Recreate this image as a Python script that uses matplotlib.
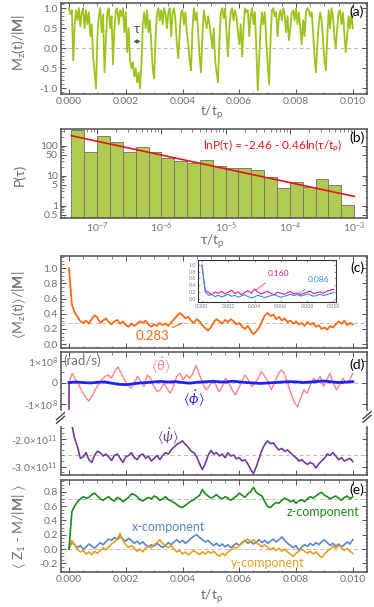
import matplotlib.pyplot as plt
import numpy as np
from matplotlib.ticker import MultipleLocator, FixedLocator, FixedFormatter, FormatStrFormatter, LogLocator, NullFormatter
from matplotlib.lines import Line2D

plt.rcParams['font.family'] = ['Lato', 'DejaVu Sans']
plt.rcParams['mathtext.fontset'] = 'custom'
plt.rcParams['mathtext.rm'] = 'Lato'
plt.rcParams['mathtext.it'] = 'Lato:italic'
plt.rcParams['mathtext.bf'] = 'Lato:bold'
plt.rcParams['mathtext.fallback'] = 'stixsans'
plt.rcParams['axes.unicode_minus'] = False

# (a) Mz(t)/|M|, sampled every 5e-5 t_p
mz_a = [1.0, 0.85, 0.95, -0.3, 0.6, 0.95, 0.7, 1.0, 0.55, 0.9,
        1.0, 0.5, 0.95, 0.6, 0.9, 0.3, 0.6, -0.2, -0.6, -1.0,
        0.3, 0.8, 1.0, 0.4, 0.85, -0.6, 0.2, 0.9, 1.0, 0.5,
        0.8, -0.4, 0.5, 0.95, 1.0, 0.6, 0.95, 0.8, 1.0, 0.4,
        0.9, -0.1, 0.5, -0.3, -0.5, -0.35, -0.7, -0.5, -0.85, -0.6,
        -1.0, -0.4, 0.6, 0.9, 0.5, 0.95, 0.4, 0.7, 0.1, -0.5,
        -0.75, 0.3, 0.85, 1.0, 0.7, 0.95, 0.6, 1.0, 0.85, 0.5,
        0.9, 1.0, 0.3, 0.9, 1.0, 0.7, 0.1, -0.25, 0.4, 0.9,
        0.95, 0.6, 0.9, 0.4, 0.1, -0.3, -0.55, 0.5, 1.0, 0.7,
        0.9, 0.4, -0.2, -0.6, 0.3, 0.95, 0.7, 0.5, 0.8, 0.6,
        0.3, 0.0, 0.5, -0.3, -0.6, -0.85, 0.2, 0.9, 1.0, 0.75,
        1.0, 0.4, -0.2, 0.5, 0.9, 1.0, 0.7, 0.95, 0.8, 0.4,
        0.1, 0.6, -0.2, 0.5, 1.0, 0.9, 0.95, 0.3, 0.8, 1.0,
        0.6, 0.9, 0.0, -1.05, -0.3, 0.5, 0.9, 0.6, 0.9, 0.2,
        -0.4, -0.9, 0.2, 0.95, 1.0, 0.8, 0.9, 0.3, 0.8, 0.95,
        0.7, 1.0, 0.85, 0.4, 0.8, 0.2, 0.5, 0.9, 0.95, 0.7,
        1.0, 0.6, 0.9, 0.5, 0.1, 0.7, 0.3, 0.9, 1.0, 0.95,
        0.8, 0.9, 0.4, -0.2, -0.6, 0.1, 0.6, 0.9, 0.7, 0.2,
        -0.3, -0.55, 0.3, 0.95, 0.5, 1.0, 0.8, 0.3, 0.0, 0.5,
        0.9, 0.95, 0.6, 0.9, 0.4, -0.1, 0.3, 0.8, 0.5, 0.9, 0.5]

# (b) histogram of residence times
log_edges = np.linspace(-7.4, -3.0, 23)
counts = [338, 63, 211, 130, 63, 93, 63, 40, 31, 27, 33,
          21, 18, 18, 16, 9, 3.9, 6.1, 4.1, 7.9, 5.0, 1.05]
fit_a, fit_b = -2.46, -0.46

# (c) <Mz(t)>/|M|, every 1e-4 t_p
mz_avg = [1.0, 0.52, 0.42, 0.36, 0.30, 0.28, 0.31, 0.27, 0.33, 0.38,
          0.35, 0.28, 0.31, 0.34, 0.29, 0.26, 0.30, 0.32, 0.27, 0.30,
          0.25, 0.23, 0.27, 0.24, 0.27, 0.30, 0.28, 0.31, 0.26, 0.23,
          0.26, 0.24, 0.28, 0.25, 0.27, 0.24, 0.29, 0.33, 0.37, 0.41,
          0.38, 0.34, 0.36, 0.31, 0.28, 0.33, 0.30, 0.25, 0.21, 0.18,
          0.22, 0.29, 0.33, 0.30, 0.27, 0.32, 0.29, 0.33, 0.30, 0.26,
          0.28, 0.23, 0.20, 0.24, 0.18, 0.13, 0.17, 0.22, 0.30, 0.38,
          0.41, 0.37, 0.39, 0.33, 0.36, 0.31, 0.34, 0.29, 0.31, 0.27,
          0.30, 0.26, 0.28, 0.24, 0.29, 0.26, 0.28, 0.23, 0.25, 0.20,
          0.22, 0.19, 0.24, 0.22, 0.26, 0.30, 0.27, 0.31, 0.25, 0.28, 0.26]
mz_mean = 0.283

# inset of (c), every 2.5e-4 t_p
ins_blue = [1.0, 0.2, 0.1, 0.12, 0.06, 0.10, 0.05, 0.09, 0.13, 0.07,
            0.10, 0.04, 0.08, 0.12, 0.06, 0.02, 0.05, 0.10, 0.07, 0.03,
            0.06, 0.09, 0.12, 0.08, 0.04, 0.07, 0.10, 0.13, 0.09, 0.12,
            0.08, 0.10, 0.14, 0.11, 0.07, 0.10, 0.13, 0.09, 0.12, 0.15, 0.18]
ins_pink = [1.0, 0.25, 0.18, 0.12, 0.20, 0.16, 0.22, 0.14, 0.19, 0.25,
            0.15, 0.20, 0.12, 0.18, 0.24, 0.16, 0.28, 0.20, 0.14, 0.18,
            0.22, 0.15, 0.12, 0.19, 0.16, 0.13, 0.18, 0.21, 0.14, 0.17,
            0.12, 0.16, 0.19, 0.22, 0.15, 0.18, 0.20, 0.16, 0.22, 0.25, 0.28]

# (d) angular velocities (rad/s)
theta_dot = [0.0, 0.43, 0.12, -0.1, -0.42, -0.65, -0.85, -0.65, -0.34, -0.1,
             0.12, 0.28, 0.35, 0.2, 0.5, 0.72, 0.43, 0.12, -0.1, -0.26,
             -0.03, 0.28, 0.05, -0.18, 0.35, 0.2, -0.18, -0.42, -0.34, -0.03,
             -0.26, -0.49, -0.18, 0.28, 0.43, 0.12, 0.35, 0.2, 0.43, 0.78,
             0.35, -0.03, -0.34, -0.18, 0.12, -0.1, -0.42, -0.18, 0.2, -0.03,
             -0.34, -0.57, -0.26, 0.05, 0.35, 0.12, -0.18, -0.03, 0.2, 0.5,
             0.28, 0.05, -0.34, -0.03, 0.35, 0.58, 0.43, -0.03, -0.49, -0.88,
             -1.12, -0.72, -0.34, -0.49, -0.1, 0.2, 0.05, 0.28, -0.18, 0.12,
             0.43, -0.03, -0.34, -0.1, 0.2, -0.03, 0.12, 0.43]
phi_dot = [0.0, 0.02, 0.0, -0.02, 0.01, 0.03, -0.03, -0.08, -0.1, -0.06,
           -0.02, 0.0, 0.03, 0.05, 0.02, 0.04, 0.0, -0.03, 0.01, 0.03,
           0.05, 0.04, 0.02, 0.06, 0.03, 0.0, -0.02, -0.04, -0.02, 0.0,
           0.02, 0.04, 0.03, 0.0, 0.02, 0.05, 0.07, 0.03, 0.0, 0.02, 0.04]
psi_dot = [0.0, -1.5, -2.0, -2.3, -2.7, -2.65, -2.5, -2.75, -2.85, -2.6,
           -2.45, -2.5, -2.62, -2.55, -2.65, -2.78, -2.6, -2.55, -2.7, -2.85,
           -2.65, -2.6, -2.5, -2.68, -2.75, -2.6, -2.55, -2.7, -2.62, -2.8,
           -2.7, -2.6, -2.75, -2.6, -2.5, -2.55, -2.4, -2.3, -2.2, -2.15,
           -2.08, -2.2, -2.3, -2.45, -2.5, -2.65, -2.9, -3.1, -2.9, -2.6,
           -2.42, -2.55, -2.5, -2.62, -2.55, -2.68, -2.5, -2.62, -2.58, -2.72,
           -2.68, -2.8, -2.75, -2.9, -3.1, -3.25, -3.0, -2.7, -2.4, -2.2,
           -2.08, -2.18, -2.15, -2.3, -2.4, -2.35, -2.45, -2.4, -2.5, -2.6,
           -2.68, -2.8, -2.75, -2.85, -2.92, -2.85, -2.9, -3.05, -2.9, -2.8,
           -2.7, -2.55, -2.6, -2.5, -2.62, -2.75, -2.68, -2.8, -2.75, -2.7, -2.82]
psi_mean = -2.6

# (e) components, every 1e-4 t_p
z_comp = [0.0, 0.52, 0.60, 0.66, 0.70, 0.73, 0.71, 0.72, 0.76, 0.78,
          0.74, 0.70, 0.68, 0.71, 0.73, 0.69, 0.67, 0.72, 0.70, 0.66,
          0.69, 0.72, 0.77, 0.76, 0.73, 0.69, 0.67, 0.70, 0.72, 0.70,
          0.74, 0.72, 0.68, 0.70, 0.73, 0.69, 0.67, 0.65, 0.62, 0.59,
          0.58, 0.61, 0.64, 0.67, 0.69, 0.72, 0.75, 0.83, 0.77, 0.74,
          0.71, 0.73, 0.76, 0.72, 0.70, 0.73, 0.71, 0.68, 0.71, 0.74,
          0.78, 0.75, 0.72, 0.77, 0.80, 0.86, 0.79, 0.76, 0.74, 0.66,
          0.59, 0.58, 0.62, 0.65, 0.64, 0.68, 0.71, 0.69, 0.66, 0.68,
          0.64, 0.67, 0.69, 0.66, 0.70, 0.73, 0.71, 0.74, 0.77, 0.79,
          0.75, 0.73, 0.70, 0.72, 0.74, 0.71, 0.68, 0.72, 0.74, 0.70, 0.73]
x_comp = [0.0, 0.10, 0.06, 0.02, 0.05, 0.00, 0.03, 0.07, 0.04, 0.01,
          0.05, 0.09, 0.06, 0.10, 0.14, 0.12, 0.16, 0.13, 0.17, 0.14,
          0.11, 0.15, 0.12, 0.08, 0.11, 0.07, 0.10, 0.06, 0.03, 0.06,
          0.04, 0.08, 0.05, 0.02, 0.05, 0.09, 0.06, 0.10, 0.13, 0.09,
          0.12, 0.08, 0.11, 0.15, 0.18, 0.20, 0.16, 0.13, 0.10, 0.12,
          0.08, 0.05, 0.08, 0.04, 0.07, 0.03, 0.06, 0.02, 0.05, 0.08,
          0.05, 0.09, 0.12, 0.08, 0.11, 0.07, 0.10, 0.13, 0.09, 0.12,
          0.08, 0.11, 0.14, 0.10, 0.13, 0.17, 0.12, 0.08, 0.05, 0.02,
          0.05, -0.02, 0.03, 0.06, 0.04, 0.08, 0.05, 0.09, 0.06, 0.10,
          0.13, 0.09, 0.05, 0.08, 0.04, 0.07, 0.03, 0.06, 0.10, 0.07, 0.13]
y_comp = [0.0, 0.12, 0.05, 0.0, -0.04, -0.02, -0.07, -0.04, -0.08, -0.03,
          -0.06, -0.02, 0.02, -0.01, 0.03, 0.07, 0.10, 0.14, 0.22, 0.12,
          0.06, 0.02, 0.05, 0.01, -0.03, 0.0, -0.04, 0.01, 0.04, 0.02,
          0.06, 0.09, 0.13, 0.08, 0.04, 0.02, 0.05, 0.0, -0.04, -0.02,
          -0.07, -0.04, -0.08, -0.05, -0.02, -0.05, -0.08, -0.04, -0.07, -0.03,
          -0.06, -0.03, -0.07, -0.10, -0.06, -0.09, -0.04, -0.01, 0.03, 0.01,
          0.05, 0.08, 0.11, 0.14, 0.10, 0.13, 0.09, 0.06, 0.03, 0.06,
          0.02, -0.01, 0.02, -0.02, 0.01, -0.03, 0.0, -0.04, -0.07, -0.10,
          -0.06, -0.03, 0.0, -0.03, -0.06, -0.03, -0.07, -0.04, -0.08, -0.12,
          -0.07, -0.03, 0.0, 0.04, 0.01, 0.05, 0.02, -0.02, 0.01, -0.03, -0.06]

T_END = 0.010
def tgrid(v):
    return np.linspace(0, T_END, len(v))

W_PX, H_PX = 374, 607
def box(top, bottom, left=60.5, right=367):
    return [left / W_PX, 1 - bottom / H_PX, (right - left) / W_PX, (bottom - top) / H_PX]
def fx(px):
    return px / W_PX
def fy(py):
    return 1 - py / H_PX

GRAY = '#707070'
def frame(ax, size=7.5):
    for s in ax.spines.values():
        s.set_color('#505050')
        s.set_linewidth(1.1)
    ax.tick_params(which='both', direction='in', top=True, right=True,
                   colors='#505050', labelcolor=GRAY, labelsize=size, pad=2)
    ax.tick_params(which='major', length=3.5, width=0.7)
    ax.tick_params(which='minor', length=1.8, width=0.5)

def time_axis(ax, labels):
    ax.set_xlim(-0.0003, 0.0105)
    ax.xaxis.set_major_locator(MultipleLocator(0.002))
    ax.xaxis.set_minor_locator(MultipleLocator(0.0005))
    if labels:
        ax.xaxis.set_major_formatter(FormatStrFormatter('%.3f'))
    else:
        ax.xaxis.set_major_formatter(NullFormatter())

dash = dict(color='#bbbbbb', lw=0.7, ls=(0, (4, 3)), zorder=1)

fig = plt.figure(figsize=(3.74, 6.07), dpi=100)

# ---- (a)
ax = fig.add_axes(box(3, 94))
frame(ax)
ax.plot(tgrid(mz_a), mz_a, color='#9dc41e', lw=1.3, zorder=2)
ax.axhline(0, **dash)
time_axis(ax, True)
ax.set_ylim(-1.14, 1.13)
ax.yaxis.set_major_locator(FixedLocator([-1, -0.5, 0, 0.5, 1]))
ax.yaxis.set_minor_locator(MultipleLocator(0.1))
ax.yaxis.set_major_formatter(FormatStrFormatter('%.1f'))
ax.annotate('', xy=(0.00217, 0.17), xytext=(0.00263, 0.17),
            arrowprops=dict(arrowstyle='<->', color='#555555', lw=0.8, mutation_scale=5))
ax.text(0.0024, 0.47, 'τ', color='#555555', fontsize=9.5, ha='center', va='center')
fig.text(fx(357), fy(12), '(a)', fontsize=10, ha='center', va='center')
fig.text(fx(19), fy(42), r'M$_\mathrm{z}$(t)/|$\mathbf{M}$|', rotation=90, color=GRAY,
         fontsize=10, ha='center', va='center')
fig.text(fx(212), fy(113), r't/t$_\mathrm{p}$', color=GRAY, fontsize=10, ha='center', va='center')

# ---- (b)
ax = fig.add_axes(box(129, 218))
frame(ax)
ax.set_xscale('log')
ax.set_yscale('log')
edges = 10 ** log_edges
ax.bar(edges[:-1], counts, width=np.diff(edges), align='edge', bottom=0.05,
       color='#b0cb52', edgecolor='#7d7d70', lw=0.7, zorder=2)
tau_fit = edges[[0, -1]]
ax.plot(tau_fit, np.exp(fit_a + fit_b * np.log(tau_fit)), color='#e8141b', lw=1.2, zorder=3)
ax.set_xlim(10 ** -7.57, 10 ** -2.80)
ax.set_ylim(0.39, 363)
ax.xaxis.set_major_locator(LogLocator(base=10, numticks=10))
ax.xaxis.set_minor_locator(LogLocator(base=10, subs=np.arange(2, 10), numticks=10))
ax.xaxis.set_minor_formatter(NullFormatter())
ax.yaxis.set_major_locator(FixedLocator([0.5, 1, 5, 10, 50, 100]))
ax.yaxis.set_major_formatter(FixedFormatter(['0.5', '1', '5', '10', '50', '100']))
ax.yaxis.set_minor_locator(LogLocator(base=10, subs=np.arange(2, 10), numticks=10))
ax.yaxis.set_minor_formatter(NullFormatter())
ax.text(0.693, 0.81, r'lnP(τ) = -2.46 - 0.46ln(τ/t$_\mathrm{p}$)', transform=ax.transAxes,
        color='#e8141b', fontsize=8.5, ha='center', va='center')
fig.text(fx(357), fy(138), '(b)', fontsize=10, ha='center', va='center')
fig.text(fx(19), fy(175), 'P(τ)', rotation=90, color=GRAY, fontsize=10, ha='center', va='center')
fig.text(fx(212), fy(242), r'τ/t$_\mathrm{p}$', color=GRAY, fontsize=10, ha='center', va='center')

# ---- (c)
ax = fig.add_axes(box(256, 348))
frame(ax)
ax.plot(tgrid(mz_avg), mz_avg, color='#fb6a14', lw=1.3, zorder=2)
ax.axhline(mz_mean, **dash)
time_axis(ax, False)
ax.set_ylim(-0.05, 1.16)
ax.yaxis.set_major_locator(MultipleLocator(0.2))
ax.yaxis.set_minor_locator(MultipleLocator(0.05))
ax.yaxis.set_major_formatter(FormatStrFormatter('%.1f'))
ax.annotate('%.3f' % mz_mean, xy=(0.0040, 0.276), xytext=(0.00294, 0.11),
            color='#fb6a14', fontsize=9.5, ha='center', va='center',
            arrowprops=dict(arrowstyle='-', color='#fb6a14', lw=0.8, shrinkA=12, shrinkB=0))
fig.text(fx(357), fy(268), '(c)', fontsize=10, ha='center', va='center')
fig.text(fx(19), fy(305), r'$\langle$M$_\mathrm{z}$(t)$\rangle$/|$\mathbf{M}$|', rotation=90, color=GRAY,
         fontsize=10, ha='center', va='center')

ins = fig.add_axes(box(260, 302, 198, 336))
for s in ins.spines.values():
    s.set_color('#333333')
    s.set_linewidth(0.8)
ins.tick_params(which='both', direction='in', top=True, right=True, colors='#555555',
                labelcolor='#808080', labelsize=3.8, length=1.5, width=0.4, pad=1.5)
ins.plot(tgrid(ins_pink), ins_pink, color='#e8198b', lw=0.8)
ins.plot(tgrid(ins_blue), ins_blue, color='#2f8fef', lw=0.8)
ins.set_xlim(-0.0003, 0.0102)
ins.set_ylim(-0.1, 1.15)
ins.xaxis.set_major_locator(MultipleLocator(0.002))
ins.xaxis.set_major_formatter(FormatStrFormatter('%.3f'))
ins.yaxis.set_major_locator(MultipleLocator(0.2))
ins.yaxis.set_major_formatter(FormatStrFormatter('%.1f'))
ins.annotate('0.160', xy=(0.0041, 0.25), xytext=(0.0058, 0.76), color='#e8198b', fontsize=6,
             ha='center', va='center',
             arrowprops=dict(arrowstyle='-', color='#e8198b', lw=0.5, shrinkA=4, shrinkB=0))
ins.annotate('0.086', xy=(0.0074, 0.16), xytext=(0.0089, 0.56), color='#2f8fef', fontsize=6,
             ha='center', va='center',
             arrowprops=dict(arrowstyle='-', color='#2f8fef', lw=0.5, shrinkA=4, shrinkB=0))

# ---- (d) upper
ax = fig.add_axes(box(352, 410))
frame(ax)
ax.spines['bottom'].set_visible(False)
ax.tick_params(which='both', bottom=False)
ax.plot(tgrid(theta_dot), np.array(theta_dot) * 1e8, color='#ff8585', lw=1.0, zorder=2)
ax.plot(tgrid(psi_dot), np.array(psi_dot) * 1e11, color='#6f3c98', lw=1.2, zorder=3)
ax.plot(tgrid(phi_dot), np.array(phi_dot) * 1e8, color='#1f1fff', lw=2.0, zorder=4)
ax.axhline(0, **dash)
time_axis(ax, False)
ax.set_ylim(-1.26e8, 1.4e8)
ax.yaxis.set_major_locator(FixedLocator([-1e8, 0, 1e8]))
ax.yaxis.set_major_formatter(FixedFormatter([r'-1$\times$10$^8$', '0', r'1$\times$10$^8$']))
ax.yaxis.set_minor_locator(MultipleLocator(0.5e8))
ax.text(0.00325, 0.77e8, r'$\langle\dot{\theta}\rangle$', color='#ff8585', fontsize=10, ha='center', va='center')
ax.text(0.00441, -0.75e8, r'$\langle\dot{\phi}\rangle$', color='#1f1fff', fontsize=10, ha='center', va='center')
fig.text(fx(63), fy(361), '(rad/s)', color=GRAY, fontsize=9.5, ha='left', va='center')
fig.text(fx(357), fy(365), '(d)', fontsize=10, ha='center', va='center')

# ---- (d) lower
ax = fig.add_axes(box(427, 475))
frame(ax)
ax.spines['top'].set_visible(False)
ax.tick_params(which='both', top=False)
ax.plot(tgrid(psi_dot), np.array(psi_dot) * 1e11, color='#6f3c98', lw=1.2, zorder=2)
ax.axhline(psi_mean * 1e11, **dash)
time_axis(ax, False)
ax.set_ylim(-3.30e11, -1.58e11)
ax.yaxis.set_major_locator(FixedLocator([-3e11, -2e11]))
ax.yaxis.set_major_formatter(FixedFormatter([r'-3.0$\times$10$^{11}$', r'-2.0$\times$10$^{11}$']))
ax.yaxis.set_minor_locator(MultipleLocator(0.2e11))
ax.text(0.0035, -1.94e11, r'$\langle\dot{\psi}\rangle$', color='#6f3c98', fontsize=10, ha='center', va='center')

for xb, yb in [(60.5, 418), (367, 417)]:
    for off in (-1.8, 1.8):
        fig.add_artist(Line2D([fx(xb - 4), fx(xb + 4)], [fy(yb + 3.5 + off), fy(yb - 3.5 + off)],
                              color='#333333', lw=0.9))

# ---- (e)
ax = fig.add_axes(box(480, 572))
frame(ax)
ax.plot(tgrid(x_comp), x_comp, color='#5b86c8', lw=1.2, zorder=2)
ax.plot(tgrid(y_comp), y_comp, color='#e6a024', lw=1.2, zorder=3)
ax.plot(tgrid(z_comp), z_comp, color='#1f8a1f', lw=1.2, zorder=4)
ax.axhline(0.7, **dash)
ax.axhline(0, **dash)
time_axis(ax, True)
ax.set_ylim(-0.32, 0.963)
ax.yaxis.set_major_locator(MultipleLocator(0.2))
ax.yaxis.set_minor_locator(MultipleLocator(0.05))
ax.yaxis.set_major_formatter(FormatStrFormatter('%.1f'))
ax.text(0.00894, 0.517, 'z-component', color='#1f8a1f', fontsize=9, ha='center', va='center')
ax.text(0.0035, 0.308, 'x-component', color='#5b86c8', fontsize=9, ha='center', va='center')
ax.text(0.0070, -0.195, 'y-component', color='#e6a024', fontsize=9, ha='center', va='center')
fig.text(fx(357), fy(490), '(e)', fontsize=10, ha='center', va='center')
fig.text(fx(19), fy(526), r'$\langle$ Z$_1$ - M/|$\mathbf{M}$| $\rangle$', rotation=90, color=GRAY,
         fontsize=10, ha='center', va='center')
fig.text(fx(212), fy(597), r't/t$_\mathrm{p}$', color=GRAY, fontsize=10, ha='center', va='center')

fig.savefig('out.png', dpi=100)
